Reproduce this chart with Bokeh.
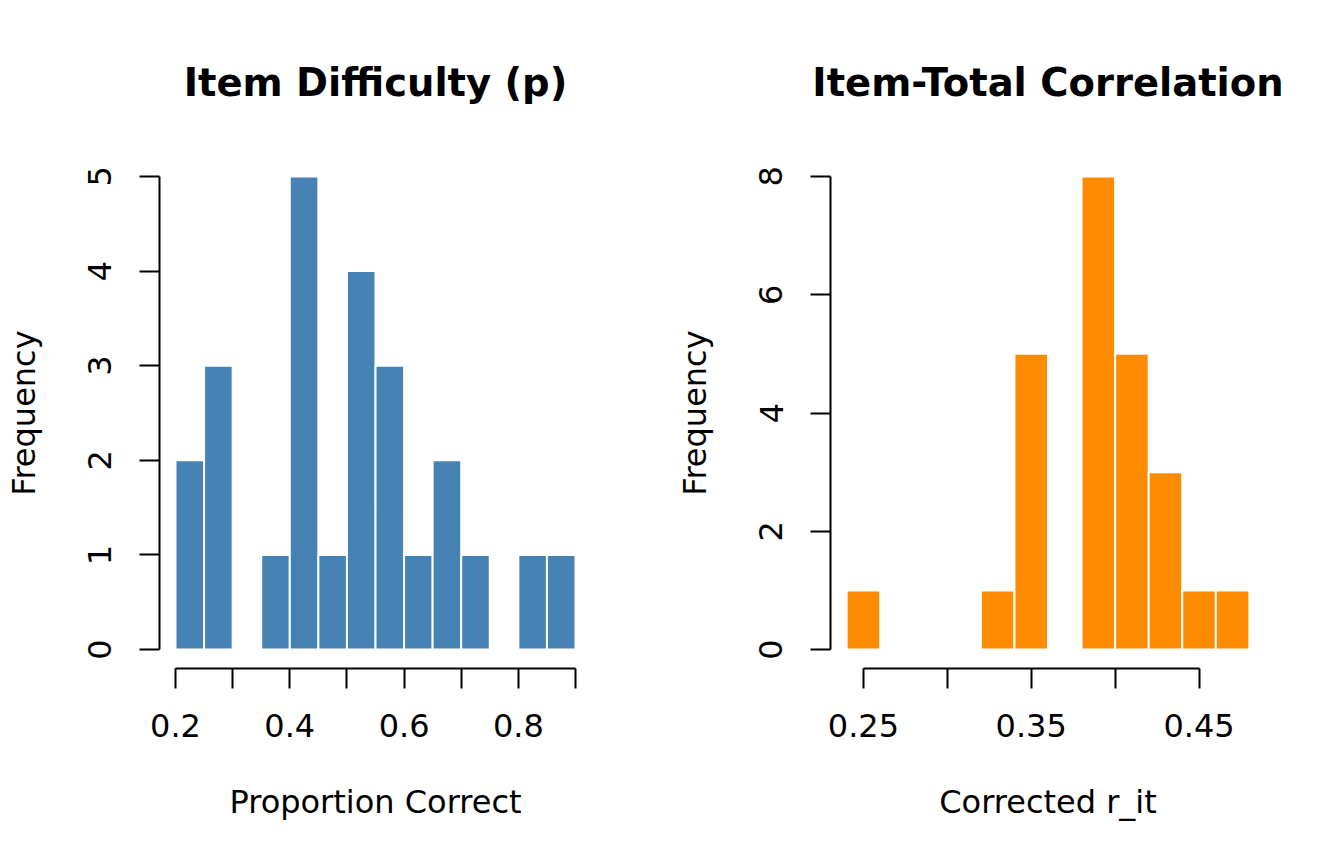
# Two histograms side by side, base-graphics look.
from bokeh.plotting import figure
from bokeh.layouts import row
from bokeh.models import FixedTicker, Range1d
from bokeh.embed import file_html
from bokeh.resources import INLINE

# Item difficulty histogram
p_edges = [0.20, 0.25, 0.30, 0.35, 0.40, 0.45, 0.50, 0.55, 0.60, 0.65, 0.70, 0.75, 0.80, 0.85, 0.90]
p_counts = [2, 3, 0, 1, 5, 1, 4, 3, 1, 2, 1, 0, 1, 1]
p_xticks = [0.2, 0.3, 0.4, 0.5, 0.6, 0.7, 0.8, 0.9]
p_xlabels = {0.2: "0.2", 0.3: "", 0.4: "0.4", 0.5: "", 0.6: "0.6", 0.7: "", 0.8: "0.8", 0.9: ""}
p_yticks = [0, 1, 2, 3, 4, 5]

# Item-total correlation histogram
r_edges = [0.24, 0.26, 0.28, 0.30, 0.32, 0.34, 0.36, 0.38, 0.40, 0.42, 0.44, 0.46, 0.48]
r_counts = [1, 0, 0, 0, 1, 5, 0, 8, 5, 3, 1, 1]
r_xticks = [0.25, 0.30, 0.35, 0.40, 0.45]
r_xlabels = {0.25: "0.25", 0.30: "", 0.35: "0.35", 0.40: "", 0.45: "0.45"}
r_yticks = [0, 2, 4, 6, 8]

FONT = "DejaVu Sans"


def makeHist(edges, counts, xticks, xlabels, yticks, color, title, xlab, border_left, border_right):
    # R style: the plot region is 4% wider than the data on each side
    x0, x1 = edges[0], edges[-1]
    dx = (x1 - x0) * 0.04
    ymax = yticks[-1]
    dy = ymax * 0.04
    p = figure(width=664, height=848, output_backend="svg", toolbar_location=None,
               x_range=Range1d(x0 - dx, x1 + dx), y_range=Range1d(-dy, ymax + dy),
               min_border_left=border_left, min_border_right=border_right,
               min_border_top=157, min_border_bottom=180)
    p.outline_line_color = None
    p.grid.visible = False
    p.background_fill_color = "white"
    p.border_fill_color = "white"

    nz = [i for i, c in enumerate(counts) if c > 0]
    p.quad(left=[edges[i] for i in nz], right=[edges[i + 1] for i in nz],
           bottom=0, top=[counts[i] for i in nz],
           fill_color=color, line_color="white", line_width=2)

    p.title.text = title
    p.title.align = "center"
    p.title.text_font = FONT
    p.title.text_font_size = "38.5px"
    p.title.text_font_style = "bold"
    p.title.text_color = "black"
    p.title.standoff = 106

    for ax in (p.xaxis[0], p.yaxis[0]):
        ax.axis_line_width = 2
        ax.major_tick_line_width = 2
        ax.major_tick_out = 20
        ax.major_tick_in = 0
        ax.minor_tick_line_color = None
        ax.major_label_text_font = FONT
        ax.major_label_text_font_size = "32px"
        ax.major_label_text_color = "black"
        ax.axis_label_text_font = FONT
        ax.axis_label_text_font_size = "32px"
        ax.axis_label_text_font_style = "normal"
        ax.axis_label_text_color = "black"

    p.xaxis.ticker = FixedTicker(ticks=xticks)
    p.xaxis.major_label_overrides = xlabels
    p.xaxis.bounds = (xticks[0], xticks[-1])
    p.xaxis.major_label_standoff = 25
    p.xaxis.axis_label = xlab
    p.xaxis.axis_label_standoff = 43

    p.yaxis.ticker = FixedTicker(ticks=yticks)
    p.yaxis.bounds = (yticks[0], yticks[-1])
    p.yaxis.major_label_orientation = "vertical"
    p.yaxis.major_label_standoff = 28
    p.yaxis.axis_label = "Frequency"
    p.yaxis.axis_label_standoff = 43
    return p


left = makeHist(p_edges, p_counts, p_xticks, p_xlabels, p_yticks, "#4682B4",
                "Item Difficulty (p)", "Proportion Correct", 159, 73)
right = makeHist(r_edges, r_counts, r_xticks, r_xlabels, r_yticks, "#FF8C00",
                 "Item-Total Correlation", "Corrected r_it", 166, 63)

layout = row(left, right)
open("out.html", "w").write(file_html(layout, INLINE))
